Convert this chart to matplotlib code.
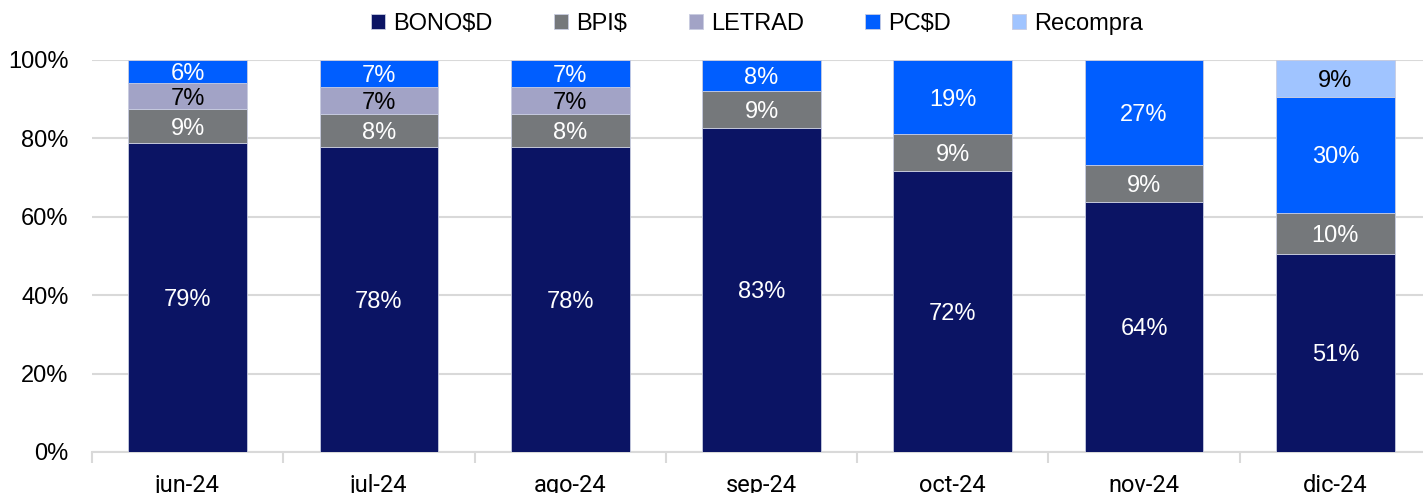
import matplotlib
matplotlib.use("Agg")
import matplotlib.pyplot as plt
import numpy as np

categories = ["jun-24", "jul-24", "ago-24", "sep-24", "oct-24", "nov-24", "dic-24"]
bono = [78.8, 77.8, 77.8, 82.7, 71.6, 63.8, 50.6]
bpi = [8.6, 8.4, 8.4, 9.4, 9.4, 9.4, 10.4]
letrad = [6.8, 6.9, 6.9, 0, 0, 0, 0]
pcd = [5.8, 6.9, 6.9, 7.9, 19.0, 26.8, 29.6]
recompra = [0, 0, 0, 0, 0, 0, 9.4]

series_names = ["BONO$D", "BPI$", "LETRAD", "PC$D", "Recompra"]
series = [bono, bpi, letrad, pcd, recompra]
colors = ["#0B1464", "#75787B", "#A2A3C6", "#005EFF", "#A0C4FF"]
label_colors = ["white", "white", "black", "white", "black"]

plt.rcParams['font.family'] = ['Liberation Sans', 'DejaVu Sans']

fig = plt.figure(figsize=(14.23, 4.93), dpi=100)
ax = fig.add_axes([92/1423, (493-452)/493, 1339/1423, 392/493])

x = np.arange(len(categories))
bottom = np.zeros(len(categories))
handles = []
for name, vals, c, lc in zip(series_names, series, colors, label_colors):
    vals = np.array(vals, dtype=float)
    bars = ax.bar(x, vals, 0.62, bottom=bottom, color=c, edgecolor="#C8CCE0",
                  linewidth=0.6, label=name, zorder=3)
    handles.append(bars)
    for xi, v, b in zip(x, vals, bottom):
        if v > 0:
            ax.text(xi, b + v / 2, f"{round(v):.0f}%", ha="center",
                    va="center_baseline", color=lc, fontsize=17, zorder=4)
    bottom += vals

ax.set_xlim(-0.5, 6.5)
ax.set_ylim(0, 100)
ax.set_yticks([0, 20, 40, 60, 80, 100])
ax.set_yticklabels([f"{v}%" for v in [0, 20, 40, 60, 80, 100]], fontsize=17)
ax.yaxis.grid(True, color="#D9D9D9", linewidth=1.5, zorder=0)
ax.set_axisbelow(True)
ax.tick_params(axis="y", length=0, pad=17)
ax.set_xticks(x)
ax.set_xticklabels(categories, fontsize=17, family=['Roboto', 'DejaVu Sans'])
ax.tick_params(axis="x", length=0, pad=16)
ax.set_xticks(np.arange(-0.5, 7, 1), minor=True)
ax.tick_params(axis="x", which="minor", length=8, color="#D9D9D9", width=1.5)
for s in ["top", "right", "left"]:
    ax.spines[s].set_visible(False)
ax.spines["bottom"].set_color("#D9D9D9")
ax.spines["bottom"].set_linewidth(1.5)

leg = fig.legend(handles=handles, labels=series_names, loc="center",
                 bbox_to_anchor=(757/1423, 1 - 24/493), ncol=5, frameon=False,
                 fontsize=17, handlelength=0.6, handleheight=0.6,
                 columnspacing=2.6, handletextpad=0.35)

fig.savefig("out.png", dpi=100)
